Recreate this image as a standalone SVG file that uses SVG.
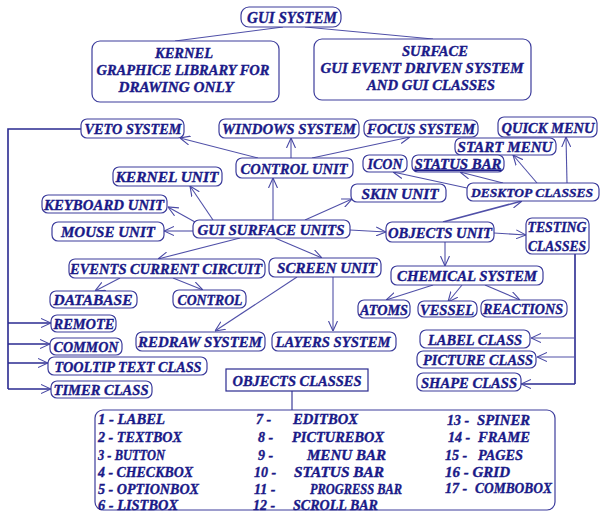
<svg xmlns="http://www.w3.org/2000/svg" width="600" height="512" viewBox="0 0 600 512">
<defs>
<marker id="ar" viewBox="0 0 10 10" refX="10" refY="5" markerWidth="10" markerHeight="10" orient="auto" markerUnits="userSpaceOnUse">
<path d="M0,0.5 L10,5 L0,9.5" fill="none" stroke="#4848a4" stroke-width="1.1"/>
</marker>
<style>
.b{fill:#fff;stroke:#3c3c9c;stroke-width:1.2}
.t{font-family:"Liberation Serif",serif;font-weight:bold;font-style:italic;font-size:15px;fill:#1a1a88;stroke:#1a1a88;stroke-width:0.35;text-anchor:middle}
.l{font-family:"Liberation Serif",serif;font-weight:bold;font-style:italic;font-size:14px;fill:#1a1a88;stroke:#1a1a88;stroke-width:0.35}
.c{fill:none;stroke:#5050a8;stroke-width:1.1}
.bus{fill:none;stroke:#2a2a90;stroke-width:1.6}
</style>
</defs>
<rect width="600" height="512" fill="#fff"/>

<g id="connectors">
<path class="c" d="M283,27 L175,41"/>
<path class="c" d="M305,27 L433,39"/>
<path class="c" d="M258,158 L180,138" marker-end="url(#ar)"/>
<path class="c" d="M291,158 L291,138" marker-end="url(#ar)"/>
<path class="c" d="M312,158 L410,137" marker-end="url(#ar)"/>
<path class="c" d="M273,220 L273,178" marker-end="url(#ar)"/>
<path class="c" d="M213,220 L190,186" marker-end="url(#ar)"/>
<path class="c" d="M195,222 L168,207" marker-end="url(#ar)"/>
<path class="c" d="M193,231 L164,231" marker-end="url(#ar)"/>
<path class="c" d="M305,220 L352,199" marker-end="url(#ar)"/>
<path class="c" d="M350,230 L386,232" marker-end="url(#ar)"/>
<path class="c" d="M240,238 L158,259" marker-end="url(#ar)"/>
<path class="c" d="M275,238 L322,258" marker-end="url(#ar)"/>
<path class="c" d="M443,222 L522,201" marker-end="url(#ar)" style="stroke-width:1.6"/>
<path class="c" d="M494,233 L526,235" marker-end="url(#ar)"/>
<path class="c" d="M445,242 L445,266" marker-end="url(#ar)"/>
<path class="c" d="M467,188 L393,172" marker-end="url(#ar)"/>
<path class="c" d="M503,183 L460,172" marker-end="url(#ar)"/>
<path class="c" d="M537,183 L513,155" marker-end="url(#ar)"/>
<path class="c" d="M567,183 L566,137" marker-end="url(#ar)"/>
<path class="c" d="M433,285 L386,300" marker-end="url(#ar)"/>
<path class="c" d="M462,285 L448,302" marker-end="url(#ar)"/>
<path class="c" d="M485,285 L520,300" marker-end="url(#ar)"/>
<path class="c" d="M120,278 L95,291" marker-end="url(#ar)"/>
<path class="c" d="M173,278 L203,290" marker-end="url(#ar)"/>
<path class="c" d="M297,277 L215,331" marker-end="url(#ar)"/>
<path class="c" d="M333,277 L333,331" marker-end="url(#ar)"/>
<path class="bus" d="M81,129 H8 V389"/>
<path class="bus" d="M8,323 H51" marker-end="url(#ar)"/>
<path class="bus" d="M8,344 H50" marker-end="url(#ar)"/>
<path class="bus" d="M8,363 H48" marker-end="url(#ar)"/>
<path class="bus" d="M8,389 H51" marker-end="url(#ar)"/>
<path class="bus" d="M575,254 V384"/>
<path class="c" d="M575,338 H531" marker-end="url(#ar)"/>
<path class="c" d="M575,357 H537" marker-end="url(#ar)"/>
<path class="bus" d="M575,384 H521" marker-end="url(#ar)"/>
<path class="c" d="M292,391 V410" style="stroke:#2a2a90"/>
</g>

<g id="gui-system"><rect class="b" x="241" y="7" width="100" height="20" rx="8"/><text class="t" x="292" y="23" textLength="90" lengthAdjust="spacingAndGlyphs" style="font-size:16px">GUI SYSTEM</text></g>
<g id="kernel"><rect class="b" x="92" y="41" width="187" height="61" rx="8"/>
<text class="t" x="184" y="58" style="font-size:14px" textLength="58" lengthAdjust="spacingAndGlyphs">KERNEL</text>
<text class="t" x="183" y="75" style="font-size:14px" textLength="173" lengthAdjust="spacingAndGlyphs">GRAPHICE LIBRARY FOR</text>
<text class="t" x="176" y="92" style="font-size:14px" textLength="115" lengthAdjust="spacingAndGlyphs">DRAWING ONLY</text></g>
<g id="surface"><rect class="b" x="314" y="39" width="217" height="61" rx="8"/>
<text class="t" x="435" y="56" style="font-size:14px" textLength="66" lengthAdjust="spacingAndGlyphs">SURFACE</text>
<text class="t" x="422" y="73" style="font-size:14px" textLength="203" lengthAdjust="spacingAndGlyphs">GUI EVENT DRIVEN SYSTEM</text>
<text class="t" x="431" y="90" style="font-size:14px" textLength="128" lengthAdjust="spacingAndGlyphs">AND GUI CLASSES</text></g>

<g id="veto-system"><rect class="b" x="81" y="119" width="103" height="19" rx="6"/><text class="t" x="133" y="134" textLength="97" lengthAdjust="spacingAndGlyphs">VETO SYSTEM</text></g>
<g id="windows-system"><rect class="b" x="219" y="119" width="140" height="19" rx="6"/><text class="t" x="289" y="134" textLength="134" lengthAdjust="spacingAndGlyphs">WINDOWS SYSTEM</text></g>
<g id="focus-system"><rect class="b" x="364" y="120" width="114" height="17" rx="6"/><text class="t" x="421" y="133.5" textLength="108" lengthAdjust="spacingAndGlyphs">FOCUS SYSTEM</text></g>
<g id="quick-menu"><rect class="b" x="498" y="117" width="99" height="20" rx="6"/><text class="t" x="548" y="132.5" textLength="93" lengthAdjust="spacingAndGlyphs">QUICK MENU</text></g>
<g id="start-menu"><rect class="b" x="455" y="138" width="101" height="17" rx="6"/><text class="t" x="505" y="151.5" textLength="95" lengthAdjust="spacingAndGlyphs">START MENU</text></g>
<g id="icon"><rect class="b" x="363" y="155" width="44" height="17" rx="6"/><text class="t" x="385" y="168.5" textLength="35" lengthAdjust="spacingAndGlyphs">ICON</text></g>
<g id="status-bar"><rect class="b" x="412" y="155" width="92" height="17" rx="6"/><text class="t" x="458" y="168.5" textLength="87" lengthAdjust="spacingAndGlyphs" text-decoration="underline">STATUS BAR</text></g>
<g id="control-unit"><rect class="b" x="236" y="158" width="117" height="20" rx="6"/><text class="t" x="294" y="173.5" textLength="107" lengthAdjust="spacingAndGlyphs">CONTROL UNIT</text></g>
<g id="kernel-unit"><rect class="b" x="113" y="167" width="109" height="19" rx="6"/><text class="t" x="167" y="181.5" textLength="103" lengthAdjust="spacingAndGlyphs">KERNEL UNIT</text></g>
<g id="skin-unit"><rect class="b" x="351" y="184" width="95" height="18" rx="6"/><text class="t" x="400" y="198.5" textLength="77" lengthAdjust="spacingAndGlyphs">SKIN UNIT</text></g>
<g id="desktop-classes"><rect class="b" x="467" y="183" width="132" height="18" rx="6"/><text class="t" x="532" y="197" textLength="122" lengthAdjust="spacingAndGlyphs" style="font-size:13.5px">DESKTOP CLASSES</text></g>
<g id="keyboard-unit"><rect class="b" x="42" y="195" width="125" height="18" rx="6"/><text class="t" x="104" y="209.5" textLength="120" lengthAdjust="spacingAndGlyphs">KEYBOARD UNIT</text></g>
<g id="mouse-unit"><rect class="b" x="52" y="222" width="112" height="19" rx="6"/><text class="t" x="108" y="236.5" textLength="94" lengthAdjust="spacingAndGlyphs">MOUSE UNIT</text></g>
<g id="gui-surface-units"><rect class="b" x="193" y="220" width="157" height="18" rx="6"/><text class="t" x="271" y="234.5" textLength="147" lengthAdjust="spacingAndGlyphs">GUI SURFACE UNITS</text></g>
<g id="objects-unit"><rect class="b" x="386" y="222" width="108" height="20" rx="6"/><text class="t" x="440" y="237.5" textLength="104" lengthAdjust="spacingAndGlyphs">OBJECTS UNIT</text></g>
<g id="testing-classes"><rect class="b" x="526" y="218" width="63" height="36" rx="6"/>
<text class="t" x="557" y="231.5" textLength="59" lengthAdjust="spacingAndGlyphs">TESTING</text>
<text class="t" x="557" y="250.5" textLength="58" lengthAdjust="spacingAndGlyphs">CLASSES</text></g>
<g id="events-current-circuit"><rect class="b" x="69" y="259" width="196" height="19" rx="6"/><text class="t" x="166" y="273.5" textLength="192" lengthAdjust="spacingAndGlyphs">EVENTS CURRENT CIRCUIT</text></g>
<g id="screen-unit"><rect class="b" x="269" y="258" width="112" height="19" rx="6"/><text class="t" x="327" y="272.5" textLength="100" lengthAdjust="spacingAndGlyphs">SCREEN UNIT</text></g>
<g id="chemical-system"><rect class="b" x="391" y="266" width="152" height="19" rx="6"/><text class="t" x="467" y="280.5" textLength="140" lengthAdjust="spacingAndGlyphs">CHEMICAL SYSTEM</text></g>
<g id="database"><rect class="b" x="50" y="291" width="87" height="17" rx="6"/><text class="t" x="93" y="304.5" textLength="79" lengthAdjust="spacingAndGlyphs">DATABASE</text></g>
<g id="control"><rect class="b" x="173" y="290" width="73" height="18" rx="6"/><text class="t" x="210" y="304.5" textLength="65" lengthAdjust="spacingAndGlyphs">CONTROL</text></g>
<g id="atoms"><rect class="b" x="358" y="300" width="52" height="18" rx="6"/><text class="t" x="384" y="314.5" textLength="48" lengthAdjust="spacingAndGlyphs">ATOMS</text></g>
<g id="vessel"><rect class="b" x="418" y="301" width="59" height="16" rx="6"/><text class="t" x="447" y="314.5" textLength="54" lengthAdjust="spacingAndGlyphs">VESSEL</text></g>
<g id="reactions"><rect class="b" x="481" y="300" width="86" height="17" rx="6"/><text class="t" x="523" y="313.5" textLength="80" lengthAdjust="spacingAndGlyphs">REACTIONS</text></g>
<g id="remote"><rect class="b" x="51" y="315" width="65" height="17" rx="6"/><text class="t" x="84" y="328.5" textLength="61" lengthAdjust="spacingAndGlyphs">REMOTE</text></g>
<g id="common"><rect class="b" x="50" y="338" width="72" height="17" rx="6"/><text class="t" x="86" y="351.5" textLength="65" lengthAdjust="spacingAndGlyphs">COMMON</text></g>
<g id="tooltip-text-class"><rect class="b" x="48" y="357" width="159" height="18" rx="6"/><text class="t" x="128" y="371.5" textLength="147" lengthAdjust="spacingAndGlyphs">TOOLTIP TEXT CLASS</text></g>
<g id="timer-class"><rect class="b" x="51" y="381" width="101" height="17" rx="6"/><text class="t" x="101" y="394.5" textLength="95" lengthAdjust="spacingAndGlyphs">TIMER CLASS</text></g>
<g id="redraw-system"><rect class="b" x="136" y="332" width="129" height="19" rx="6"/><text class="t" x="200" y="346.5" textLength="124" lengthAdjust="spacingAndGlyphs">REDRAW SYSTEM</text></g>
<g id="layers-system"><rect class="b" x="272" y="332" width="124" height="19" rx="6"/><text class="t" x="333" y="346.5" textLength="115" lengthAdjust="spacingAndGlyphs">LAYERS SYSTEM</text></g>
<g id="label-class"><rect class="b" x="420" y="330" width="110" height="18" rx="6"/><text class="t" x="475" y="344.5" textLength="94" lengthAdjust="spacingAndGlyphs">LABEL CLASS</text></g>
<g id="picture-class"><rect class="b" x="417" y="351" width="119" height="17" rx="6"/><text class="t" x="478" y="364.5" textLength="110" lengthAdjust="spacingAndGlyphs">PICTURE CLASS</text></g>
<g id="shape-class"><rect class="b" x="417" y="373" width="104" height="18" rx="6"/><text class="t" x="469" y="387.5" textLength="96" lengthAdjust="spacingAndGlyphs">SHAPE CLASS</text></g>
<g id="objects-classes"><rect class="b" x="226" y="369" width="142" height="22" style="stroke:#2a2a90"/><text class="t" x="297" y="385.5" textLength="129" lengthAdjust="spacingAndGlyphs">OBJECTS CLASSES</text></g>

<g id="objects-list"><rect class="b" x="95" y="410" width="460" height="100" rx="8"/>
<text class="l" x="98" y="423.5" textLength="67" lengthAdjust="spacingAndGlyphs">1 - LABEL</text>
<text class="l" x="98" y="441.5" textLength="84" lengthAdjust="spacingAndGlyphs">2 - TEXTBOX</text>
<text class="l" x="98" y="459.5" textLength="67" lengthAdjust="spacingAndGlyphs">3 - BUTTON</text>
<text class="l" x="98" y="477" textLength="95" lengthAdjust="spacingAndGlyphs">4 - CHECKBOX</text>
<text class="l" x="98" y="494" textLength="101" lengthAdjust="spacingAndGlyphs">5 - OPTIONBOX</text>
<text class="l" x="98" y="510" textLength="80" lengthAdjust="spacingAndGlyphs">6 - LISTBOX</text>
<text class="l" x="256" y="423.5">7 -</text><text class="l" x="293" y="423.5" textLength="65" lengthAdjust="spacingAndGlyphs">EDITBOX</text>
<text class="l" x="258" y="441.5">8 -</text><text class="l" x="292" y="441.5" textLength="92" lengthAdjust="spacingAndGlyphs">PICTUREBOX</text>
<text class="l" x="258" y="459.5">9 -</text><text class="l" x="307" y="459.5" textLength="79" lengthAdjust="spacingAndGlyphs">MENU BAR</text>
<text class="l" x="254" y="477">10 -</text><text class="l" x="294" y="477" textLength="90" lengthAdjust="spacingAndGlyphs">STATUS BAR</text>
<text class="l" x="254" y="494">11 -</text><text class="l" x="310" y="494" textLength="92" lengthAdjust="spacingAndGlyphs">PROGRESS BAR</text>
<text class="l" x="253" y="510">12 -</text><text class="l" x="293" y="510" textLength="85" lengthAdjust="spacingAndGlyphs">SCROLL BAR</text>
<text class="l" x="447" y="424.5">13 -</text><text class="l" x="477" y="424.5" textLength="53" lengthAdjust="spacingAndGlyphs">SPINER</text>
<text class="l" x="448" y="442">14 -</text><text class="l" x="478" y="442" textLength="52" lengthAdjust="spacingAndGlyphs">FRAME</text>
<text class="l" x="445" y="459.5">15 -</text><text class="l" x="478" y="459.5" textLength="45" lengthAdjust="spacingAndGlyphs">PAGES</text>
<text class="l" x="445" y="476.5" textLength="65" lengthAdjust="spacingAndGlyphs">16 - GRID</text>
<text class="l" x="445" y="492.5">17 -</text><text class="l" x="475" y="492.5" textLength="77" lengthAdjust="spacingAndGlyphs">COMBOBOX</text>
</g>
</svg>
